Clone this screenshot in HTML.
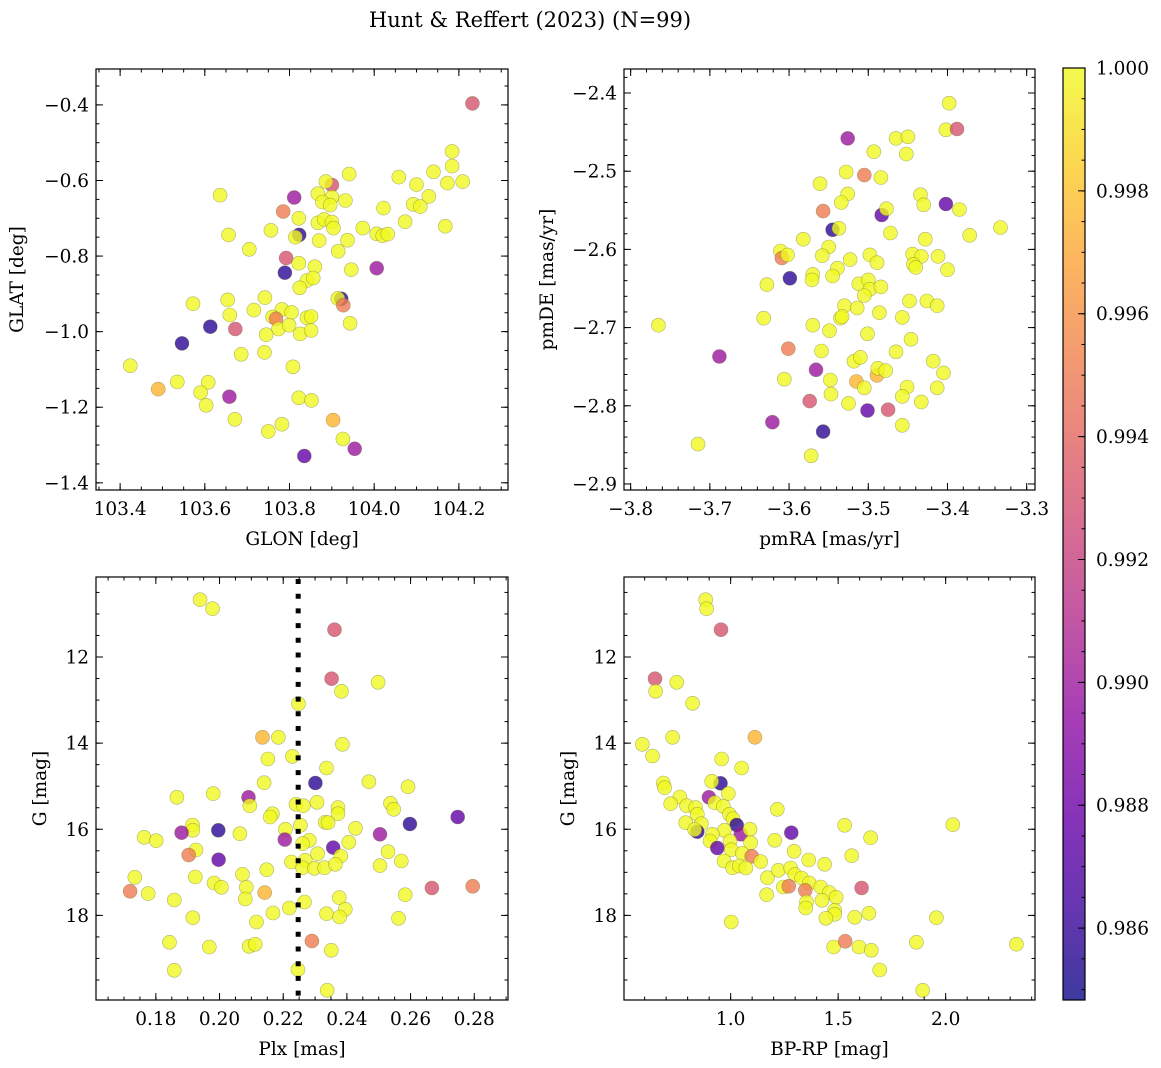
<!DOCTYPE html>
<html><head><meta charset="utf-8">
<style>
html,body{margin:0;padding:0;background:#fff;}
svg{display:block;font-family:"DejaVu Serif","Liberation Serif",serif;}
</style></head>
<body>
<svg id="fig" width="1161" height="1068" viewBox="0 0 1161 1068" xmlns="http://www.w3.org/2000/svg">
<text x="530" y="27" font-size="21" text-anchor="middle">Hunt &amp; Reffert (2023) (N=99)</text>
<defs>
<linearGradient id="cbgrad" x1="0" y1="1" x2="0" y2="0">
<stop offset="0" stop-color="#0d0887"/><stop offset="0.1" stop-color="#41049d"/><stop offset="0.2" stop-color="#6a00a8"/><stop offset="0.3" stop-color="#8f0da4"/><stop offset="0.4" stop-color="#b12a90"/><stop offset="0.5" stop-color="#cc4778"/><stop offset="0.6" stop-color="#e16462"/><stop offset="0.7" stop-color="#f2844b"/><stop offset="0.8" stop-color="#fca636"/><stop offset="0.9" stop-color="#fcce25"/><stop offset="1" stop-color="#f0f921"/>
</linearGradient>
</defs>
</svg>
<script>
// ---------- data (per panel) ----------
const p1Glon = [104.232,104.184,104.184,104.140,104.173,104.209,104.058,104.100,104.129,104.092,104.109,104.073,104.168,103.941,103.900,103.886,103.867,103.900,103.878,103.896,103.932,103.811,103.636,103.785,103.822,104.022,103.867,103.882,103.900,103.904,103.973,104.006,104.020,104.032,103.756,103.656,103.823,103.814,103.870,103.937,103.915,103.705,103.792,103.822,103.860,103.946,104.006,103.789,103.841,103.856,103.824,103.572,103.654,103.742,103.922,103.914,103.927,103.716,103.782,103.805,103.659,103.760,103.841,103.851,103.768,103.774,103.799,103.613,103.672,103.745,103.825,103.851,103.943,103.546,103.686,103.741,103.424,103.808,103.535,103.608,103.490,103.590,103.658,103.603,103.822,103.852,103.671,103.782,103.750,103.903,103.926,103.954,103.835];
const p1Glat = [-0.396,-0.523,-0.562,-0.577,-0.607,-0.603,-0.591,-0.611,-0.642,-0.663,-0.669,-0.709,-0.721,-0.583,-0.612,-0.603,-0.635,-0.644,-0.657,-0.665,-0.653,-0.645,-0.639,-0.682,-0.700,-0.673,-0.712,-0.703,-0.710,-0.726,-0.726,-0.741,-0.746,-0.742,-0.732,-0.744,-0.744,-0.750,-0.759,-0.758,-0.787,-0.782,-0.805,-0.819,-0.828,-0.836,-0.832,-0.844,-0.865,-0.858,-0.884,-0.926,-0.916,-0.910,-0.913,-0.912,-0.930,-0.943,-0.941,-0.949,-0.956,-0.961,-0.963,-0.960,-0.966,-0.993,-0.983,-0.987,-0.993,-1.008,-1.006,-0.997,-0.978,-1.031,-1.060,-1.055,-1.090,-1.093,-1.133,-1.134,-1.152,-1.161,-1.172,-1.195,-1.175,-1.182,-1.232,-1.245,-1.264,-1.234,-1.284,-1.310,-1.329];
const p1Prob = [0.993,1,1,1,1,1,1,1,1,1,1,1,1,1,0.993,1,1,1,1,1,1,0.9898,1,0.995,1,1,1,1,1,1,1,1,1,1,1,1,0.9857,1,1,1,1,1,0.993,1,1,1,0.9898,0.9857,1,1,1,1,1,1,0.9857,1,0.995,1,1,1,1,1,1,1,0.995,1,1,0.9857,0.993,1,1,1,1,0.9857,1,1,1,1,1,1,0.9975,1,0.9898,1,1,1,1,1,1,0.9975,1,0.9898,0.9875];

const p2Pmra = [-3.398,-3.402,-3.388,-3.526,-3.465,-3.450,-3.493,-3.452,-3.528,-3.505,-3.484,-3.561,-3.526,-3.434,-3.534,-3.430,-3.402,-3.385,-3.557,-3.483,-3.477,-3.545,-3.537,-3.472,-3.333,-3.372,-3.428,-3.582,-3.550,-3.558,-3.611,-3.609,-3.602,-3.523,-3.498,-3.489,-3.444,-3.433,-3.412,-3.443,-3.440,-3.400,-3.539,-3.545,-3.570,-3.571,-3.599,-3.628,-3.512,-3.500,-3.498,-3.484,-3.505,-3.530,-3.514,-3.448,-3.426,-3.413,-3.535,-3.533,-3.486,-3.457,-3.632,-3.765,-3.570,-3.549,-3.501,-3.446,-3.601,-3.688,-3.559,-3.465,-3.518,-3.510,-3.418,-3.566,-3.489,-3.488,-3.478,-3.405,-3.606,-3.548,-3.515,-3.505,-3.451,-3.413,-3.547,-3.457,-3.574,-3.525,-3.501,-3.475,-3.433,-3.621,-3.557,-3.457,-3.715,-3.572];
const p2Pmde = [-2.413,-2.447,-2.446,-2.458,-2.458,-2.456,-2.475,-2.478,-2.501,-2.505,-2.508,-2.516,-2.529,-2.530,-2.540,-2.543,-2.542,-2.549,-2.551,-2.556,-2.548,-2.575,-2.573,-2.579,-2.572,-2.582,-2.587,-2.587,-2.597,-2.608,-2.602,-2.611,-2.607,-2.613,-2.607,-2.617,-2.606,-2.609,-2.609,-2.619,-2.623,-2.626,-2.624,-2.634,-2.632,-2.639,-2.637,-2.645,-2.644,-2.639,-2.651,-2.648,-2.659,-2.672,-2.675,-2.666,-2.666,-2.672,-2.688,-2.686,-2.681,-2.687,-2.688,-2.697,-2.697,-2.704,-2.708,-2.715,-2.727,-2.737,-2.730,-2.731,-2.743,-2.738,-2.743,-2.754,-2.761,-2.752,-2.755,-2.758,-2.766,-2.767,-2.769,-2.777,-2.776,-2.777,-2.785,-2.788,-2.794,-2.797,-2.806,-2.805,-2.795,-2.821,-2.833,-2.825,-2.849,-2.864];
const p2Prob = [1,1,0.993,0.9898,1,1,1,1,1,0.995,1,1,1,1,1,1,0.9875,1,0.995,0.9875,1,0.9857,1,1,1,1,1,1,1,1,1,0.995,1,1,1,1,1,1,1,1,1,1,1,1,1,1,0.9857,1,1,1,1,1,1,1,1,1,1,1,1,1,1,1,1,1,1,1,1,1,0.995,0.9898,1,1,1,1,1,0.9898,0.9975,1,1,1,1,1,0.9975,1,1,1,1,1,0.993,1,0.9875,0.993,1,0.9898,0.9857,1,1,1];

const p3Plx = [0.1939,0.1978,0.2361,0.2352,0.2498,0.2383,0.2248,0.2135,0.2185,0.2386,0.2152,0.2229,0.2336,0.2140,0.2301,0.2469,0.2592,0.1866,0.1980,0.2091,0.2095,0.2240,0.2263,0.2306,0.2372,0.2372,0.2537,0.2547,0.2748,0.2166,0.2159,0.2332,0.2341,0.2598,0.1915,0.1916,0.1881,0.1996,0.2064,0.2207,0.2205,0.2254,0.2427,0.2504,0.1763,0.1801,0.2282,0.2261,0.2406,0.2357,0.1926,0.1903,0.1997,0.2308,0.2381,0.2529,0.2571,0.2226,0.2269,0.2261,0.2298,0.2330,0.2364,0.2504,0.1734,0.1924,0.2072,0.2148,0.1983,0.2006,0.2084,0.1719,0.1776,0.2142,0.2081,0.1858,0.2267,0.2376,0.2583,0.2667,0.2795,0.2219,0.2168,0.2336,0.2395,0.2377,0.1916,0.2562,0.2116,0.1843,0.1968,0.2093,0.2112,0.2290,0.2351,0.1858,0.2246,0.2338];
const p3G = [10.669,10.878,11.365,12.503,12.588,12.797,13.084,13.865,13.865,14.028,14.368,14.307,14.577,14.918,14.926,14.895,15.011,15.258,15.173,15.258,15.452,15.421,15.452,15.375,15.498,15.638,15.398,15.537,15.715,15.638,15.715,15.839,15.847,15.878,15.901,16.025,16.079,16.025,16.102,16.002,16.241,15.909,15.978,16.118,16.187,16.265,16.257,16.334,16.303,16.427,16.481,16.598,16.706,16.567,16.621,16.520,16.737,16.760,16.721,16.892,16.907,16.892,16.814,16.845,17.116,17.108,17.046,16.938,17.248,17.348,17.348,17.441,17.495,17.472,17.619,17.642,17.689,17.588,17.519,17.364,17.325,17.828,17.944,17.960,17.859,18.037,18.053,18.068,18.153,18.625,18.734,18.718,18.672,18.594,18.811,19.276,19.260,19.740];
const p3Prob = [1,1,0.993,0.993,1,1,1,0.9975,1,1,1,1,1,1,0.9857,1,1,1,1,0.9898,1,1,1,1,1,1,1,1,0.9875,1,1,1,1,0.9857,1,1,0.9898,0.9857,1,1,0.9898,1,1,0.9898,1,1,1,1,1,0.9875,1,0.995,0.9875,1,1,1,1,1,1,1,1,1,1,1,1,1,1,1,1,1,1,0.995,1,0.9975,1,1,1,1,1,0.993,0.995,1,1,1,1,1,1,1,1,1,1,1,1,0.995,1,1,1,1];
const plxRef = 0.2247;

const p4Bprp = [0.884,0.888,0.955,0.648,0.749,0.651,0.823,0.730,1.113,0.589,0.637,0.958,1.051,0.953,0.912,0.687,0.693,0.989,0.899,0.764,0.721,0.795,0.926,0.966,0.837,0.845,1.217,0.994,1.011,0.791,0.864,1.028,0.845,0.833,0.971,0.915,1.047,1.090,1.282,1.530,2.033,0.904,0.997,1.093,1.205,1.651,0.938,1.003,1.054,1.098,1.295,1.563,0.969,1.140,1.363,1.437,1.009,1.040,1.071,1.171,1.222,1.279,1.299,1.330,1.366,1.245,1.270,1.347,1.419,1.459,1.491,1.609,1.167,1.353,1.349,1.425,1.484,1.484,1.443,1.577,1.643,1.957,1.003,1.479,1.533,1.597,1.654,1.864,2.329,1.693,1.893];
const p4G = [10.669,10.878,11.365,12.503,12.588,12.797,13.076,13.865,13.865,14.028,14.299,14.368,14.577,14.933,14.887,14.926,15.034,15.173,15.258,15.251,15.406,15.452,15.383,15.467,15.498,15.653,15.537,15.653,15.754,15.847,15.870,15.901,16.056,16.009,16.025,16.118,16.118,16.002,16.079,15.909,15.893,16.272,16.272,16.311,16.257,16.195,16.435,16.474,16.559,16.628,16.512,16.613,16.737,16.752,16.714,16.814,16.892,16.853,16.899,17.124,16.954,16.899,17.054,17.132,17.248,17.341,17.325,17.418,17.341,17.472,17.580,17.364,17.519,17.689,17.828,17.650,17.882,17.975,18.068,18.045,17.952,18.053,18.153,18.734,18.602,18.734,18.811,18.625,18.669,19.268,19.740];
const p4Prob = [1,1,0.993,0.993,1,1,1,1,0.9975,1,1,1,1,0.9857,1,1,1,1,0.9898,1,1,1,1,1,1,1,1,1,1,1,1,0.9857,0.9857,1,1,1,0.9898,1,0.9875,1,1,1,1,1,1,1,0.9875,1,1,0.995,1,1,1,1,1,1,1,1,1,1,1,1,1,1,1,1,0.995,0.995,1,1,1,0.993,1,1,1,1,1,1,1,1,1,1,1,1,0.995,1,1,1,1,1,1];

const cbTicks = [0.986,0.988,0.990,0.992,0.994,0.996,0.998,1.000];
const cbMin = 0.98483, cbMax = 1.0;

// ---------- rendering ----------
const NS = "http://www.w3.org/2000/svg";
const svg = document.getElementById('fig');
const stops = [[13,8,135],[65,4,157],[106,0,168],[143,13,164],[177,42,144],[204,71,120],[225,100,98],[242,132,75],[252,166,54],[252,206,37],[240,249,33]];
function plasma(p){
  let t = (p-cbMin)/(cbMax-cbMin); t=Math.max(0,Math.min(1,t));
  const f=t*10, i=Math.min(9,Math.floor(f)), r=f-i;
  const c=stops[i].map((v,k)=>Math.round(v+(stops[i+1][k]-v)*r));
  return 'rgb('+c.join(',')+')';
}
function mk(tag, attrs, parent){
  const e=document.createElementNS(NS,tag);
  for(const k in attrs) e.setAttribute(k,attrs[k]);
  (parent||svg).appendChild(e); return e;
}
function fmt(v,d){ const s=Math.abs(v).toFixed(d); return (v<0?'\u2212':'')+s; }
const FS = 18.5;

function panel(cfg){
  const g=mk('g',{});
  
  
  const L=cfg.x0,R=cfg.x1,T=cfg.y0,B=cfg.y1;
  const sx=v=>L+(v-cfg.xmin)/(cfg.xmax-cfg.xmin)*(R-L);
  const sy=v=>cfg.yinv ? T+(v-cfg.ymin)/(cfg.ymax-cfg.ymin)*(B-T) : B-(v-cfg.ymin)/(cfg.ymax-cfg.ymin)*(B-T);
  for(let i=0;i<cfg.xs.length;i++){
    const c=mk('circle',{cx:sx(cfg.xs[i]).toFixed(1),cy:sy(cfg.ys[i]).toFixed(1),r:7,fill:plasma(cfg.ps[i]),'fill-opacity':0.8,stroke:'#6b6b30','stroke-opacity':0.5,'stroke-width':0.6},g);
    
    
  }
  if(cfg.vline!==undefined){
    const l=mk('line',{x1:sx(cfg.vline),x2:sx(cfg.vline),y1:T+2,y2:B,stroke:'#000','stroke-width':5,'stroke-dasharray':'5 9.7'},g);
    
    
  }
  const fr=mk('rect',{x:L,y:T,width:R-L,height:B-T,fill:'none',stroke:'#000','stroke-width':1.2},g);
  
  
  const tk=(a,b,c,d,w)=>mk('line',{x1:a,y1:b,x2:c,y2:d,stroke:'#000','stroke-width':w||1},g);
  const rng=(a,b,s)=>{const o=[];for(let v=Math.ceil(a/s-1e-6)*s;v<=b+1e-9;v+=s)o.push(+v.toFixed(6));return o;};
  rng(cfg.xmin,cfg.xmax,cfg.xminor).forEach(v=>{const x=sx(v);tk(x,B,x,B-3.5);tk(x,T,x,T+3.5);});
  rng(cfg.ymin,cfg.ymax,cfg.yminor).forEach(v=>{const y=sy(v);tk(L,y,L+3.5,y);tk(R,y,R-3.5,y);});
  cfg.xticks.forEach(v=>{const x=sx(v);tk(x,B,x,B-7);tk(x,T,x,T+7);
    const t=mk('text',{x:x,y:B+25,'font-size':FS,'text-anchor':'middle'},g);t.textContent=fmt(v,cfg.xd);
    
    });
  cfg.yticks.forEach(v=>{const y=sy(v);tk(L,y,L+7,y);tk(R,y,R-7,y);
    const t=mk('text',{x:L-7,y:y+6.5,'font-size':FS,'text-anchor':'end'},g);t.textContent=fmt(v,cfg.yd);
    
    });
  const xl=mk('text',{x:(L+R)/2,y:B+55,'font-size':FS,'text-anchor':'middle'},g);xl.textContent=cfg.xlabel;
  
  
  const ylx=cfg.ylx;
  const yl=mk('text',{x:ylx,y:(T+B)/2,'font-size':FS,'text-anchor':'middle',transform:'rotate(-90 '+ylx+' '+(T+B)/2+')'},g);yl.textContent=cfg.ylabel;
  
  
}

panel({name:'glon-glat-panel',x0:96,x1:508,y0:69,y1:490,xmin:103.343,xmax:104.316,ymin:-1.419,ymax:-0.305,
  xs:p1Glon,ys:p1Glat,ps:p1Prob,xticks:[103.4,103.6,103.8,104.0,104.2],yticks:[-0.4,-0.6,-0.8,-1.0,-1.2,-1.4],
  xd:1,yd:1,xminor:0.05,yminor:0.05,xlabel:'GLON [deg]',ylabel:'GLAT [deg]',ylx:23});
panel({name:'pm-panel',x0:624,x1:1035,y0:69,y1:490,xmin:-3.8084,xmax:-3.2895,ymin:-2.9077,ymax:-2.3693,
  xs:p2Pmra,ys:p2Pmde,ps:p2Prob,xticks:[-3.8,-3.7,-3.6,-3.5,-3.4,-3.3],yticks:[-2.4,-2.5,-2.6,-2.7,-2.8,-2.9],
  xd:1,yd:1,xminor:0.02,yminor:0.02,xlabel:'pmRA [mas/yr]',ylabel:'pmDE [mas/yr]',ylx:553});
panel({name:'plx-g-panel',x0:96,x1:508,y0:577,y1:1000,xmin:0.1612,xmax:0.2906,ymin:10.142,ymax:19.965,yinv:true,
  xs:p3Plx,ys:p3G,ps:p3Prob,vline:plxRef,xticks:[0.18,0.20,0.22,0.24,0.26,0.28],yticks:[12,14,16,18],
  xd:2,yd:0,xminor:0.005,yminor:0.5,xlabel:'Plx [mas]',ylabel:'G [mag]',ylx:46});
panel({name:'cmd-panel',x0:624,x1:1035,y0:577,y1:1000,xmin:0.504,xmax:2.4155,ymin:10.142,ymax:19.965,yinv:true,
  xs:p4Bprp,ys:p4G,ps:p4Prob,xticks:[1.0,1.5,2.0],yticks:[12,14,16,18],
  xd:1,yd:0,xminor:0.1,yminor:0.5,xlabel:'BP-RP [mag]',ylabel:'G [mag]',ylx:574});

const cb=mk('g',{});


const CT=68,CB=1000,CL=1063,CR=1085;
const cy=v=>CB-(v-cbMin)/(cbMax-cbMin)*(CB-CT);
mk('rect',{x:CL,y:CT,width:CR-CL,height:CB-CT,fill:'url(#cbgrad)','fill-opacity':0.8},cb);
mk('rect',{x:CL,y:CT,width:CR-CL,height:CB-CT,fill:'none',stroke:'#000','stroke-width':1.2},cb);
for(let v=0.985;v<=1.00001;v+=0.0005){const y=cy(v);mk('line',{x1:CR,x2:CR-3.5,y1:y,y2:y,stroke:'#000'},cb);}
cbTicks.forEach(v=>{const y=cy(v);mk('line',{x1:CR,x2:CR-7,y1:y,y2:y,stroke:'#000'},cb);
  const t=mk('text',{x:CR+11,y:y+6.5,'font-size':FS},cb);t.textContent=v.toFixed(3);
  
  });
</script>
</body></html>
